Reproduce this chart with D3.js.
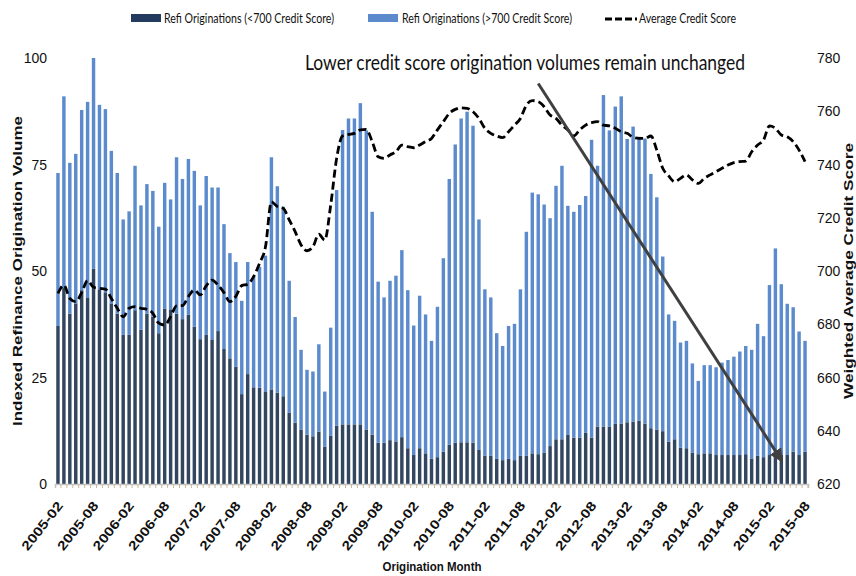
<!DOCTYPE html>
<html lang="en">
<head>
    <meta charset="UTF-8">
    <title>Refi originations by credit score</title>
    <script src="https://d3js.org/d3.v7.min.js"></script>
    <style>
        body { margin: 0; background: #fff; }
        text { fill: #111; }
    </style>
</head>
<body>
<svg id="chart" width="856" height="576"></svg>
<script>

    // Refi originations with credit score below 700 (indexed, bottom of the stack)
    const below700 = [
        37.1, 46, 40, 42.4, 45.5, 43.8, 50.5, 45.7, 45, 42.4, 40, 35, 35, 40.8, 36.2, 40,
        39.3, 35.4, 41.2, 41, 40, 38.7, 39.7, 36.9, 34, 35, 33.8, 35.9, 31.7, 29.5, 27.5, 21.1,
        25.8, 22.7, 22.6, 21.6, 22.2, 21.4, 20.6, 16.7, 14.4, 12.8, 11.6, 11.2, 12.3, 8.8, 11.3, 13.7,
        14, 14, 14, 14, 12.8, 11.6, 9.7, 9.7, 10.3, 10, 11, 8.4, 6.8, 8.4, 7.2, 5.9,
        6.3, 7.6, 9.2, 9.7, 9.8, 9.8, 9.7, 8, 6.6, 6.6, 5.9, 5.6, 5.9, 5.6, 6.6, 6.6,
        7.2, 7, 7.4, 8.9, 10.5, 10.5, 11.5, 10.9, 10.9, 12, 10.9, 13.5, 13.5, 13.5, 14.1, 14.2,
        14.5, 14.6, 14.9, 14.2, 13.1, 12.8, 12.4, 9.9, 10.5, 8.5, 8.4, 7.4, 7, 7.2, 7.2, 6.8,
        6.8, 6.8, 6.8, 6.8, 7, 6, 6.6, 6.3, 6.8, 6.8, 6.8, 6.8, 7.6, 6.8, 7.6
    ];

    // Refi originations with credit score above 700 (stacked on top)
    const above700 = [
        35.9, 45, 35.4, 35.1, 42.3, 45.9, 49.5, 43.3, 43, 35.8, 33, 27.1, 29, 33.9, 29.2, 30.4,
        29.5, 25, 29.5, 25.8, 36.7, 32.9, 36.6, 36.6, 31.4, 37.3, 35.8, 33.7, 29.3, 24.7, 24.6, 21.9,
        26.3, 26, 28.4, 32, 54.5, 48.5, 44.5, 31, 24.8, 18.7, 15.2, 15.2, 20.5, 12.9, 25.4, 55.3,
        69.1, 71.8, 71.8, 75.4, 70.2, 52.3, 37.8, 34.1, 37.4, 38.9, 43.9, 37.1, 30.4, 35.8, 32.6, 27.7,
        35.3, 45.4, 62.4, 70, 76, 77.6, 74.4, 54.1, 39.1, 37.2, 29.5, 26.8, 31.2, 32, 39.1, 52.6,
        61.2, 61, 58.2, 53.5, 59.5, 64.2, 53.8, 53, 54.6, 55.6, 69.9, 61.2, 77.8, 69.5, 74.5, 76.8,
        66.5, 69.3, 66.6, 66.9, 59.7, 54.5, 41, 29.9, 27.8, 24.7, 25.2, 20.9, 17.2, 20.7, 20.7, 20.6,
        21.7, 22.3, 23.1, 24.3, 25.4, 25.5, 31, 28.4, 39.9, 48.5, 40.1, 35.5, 33.9, 29, 26
    ];

    // Weighted average credit score (right axis)
    const creditScore = [
        691.6, 694.7, 689.7, 688.5, 691.9, 696.4, 693.9, 693.5, 693.2, 689.7, 686, 682.8, 686, 686.6, 686, 685.6,
        684.1, 680.4, 679.7, 682.8, 686.9, 687, 690.4, 692.9, 691, 694.4, 696.6, 694.7, 691.9, 688.5, 690.5, 694.5,
        695, 697.9, 702.9, 709.1, 726, 724.2, 723.5, 719.2, 714.8, 709.8, 707.6, 709.1, 713.8, 711.6, 724.8, 742.3,
        750.7, 751.3, 751.7, 753, 753.2, 748.6, 742.9, 742.3, 743.6, 744.8, 747.3, 746.7, 746.3, 747.3, 748.6, 749.8,
        753, 756.1, 759.2, 760.7, 761.3, 761.1, 759.8, 757.3, 753.6, 751.7, 750.7, 750.1, 752.3, 754.8, 757.3, 762.3,
        764, 763.6, 761.7, 758.6, 757.3, 754.8, 753, 750.7, 753, 754.8, 755.7, 756.1, 754.8, 754.5, 753.6, 752.3,
        751.7, 750.2, 749.8, 749.8, 750.7, 745.4, 738.6, 735.7, 733.5, 734.8, 736.1, 734.2, 732.9, 734.8, 736.1, 737.3,
        738.6, 739.8, 740.7, 741.1, 741.3, 744.8, 747.3, 749.2, 754.5, 753.6, 751.1, 750.4, 748.6, 745.4, 741.1
    ];

    const tickLabels = [
        "2005-02", "2005-08", "2006-02", "2006-08", "2007-02", "2007-08", "2008-02", "2008-08",
        "2009-02", "2009-08", "2010-02", "2010-08", "2011-02", "2011-08", "2012-02", "2012-08",
        "2013-02", "2013-08", "2014-02", "2014-08", "2015-02", "2015-08"
    ];
    const leftTicks = [0, 25, 50, 75, 100];
    const rightTicks = [620, 640, 660, 680, 700, 720, 740, 760, 780];

    // arrow annotation, in data terms
    const arrowFrom = {month: "2011-11", value: 94};
    const arrowTo = {month: "2015-04", value: 5.6};

    const fmt = d3.timeFormat("%Y-%m");
    const months = d3.timeMonth.range(new Date(2005, 1, 1), new Date(2015, 8, 1)).map(fmt);

    const rows = months.map((m, i) => ({month: m, low: below700[i], high: above700[i], score: creditScore[i]}));

    const svg = d3.select("#chart");
    const plotLeft = 55, plotRight = 808, plotTop = 58, plotBottom = 484;

    const x = d3.scaleBand()
        .domain(months)
        .range([plotLeft, plotRight])
        .paddingInner(0.42)
        .paddingOuter(0.21);

    const y = d3.scaleLinear().domain([0, 100]).range([plotBottom, plotTop]);
    const yR = d3.scaleLinear().domain([620, 780]).range([plotBottom, plotTop]);

    const colors = {low: "#33465f", high: "#5b8bcd"};

    // stacked bars
    const stacked = d3.stack().keys(["low", "high"])(rows);
    svg.append("g")
        .selectAll("g")
        .data(stacked)
        .join("g")
        .attr("fill", d => colors[d.key])
        .selectAll("rect")
        .data(d => d)
        .join("rect")
        .attr("x", d => x(d.data.month))
        .attr("y", d => y(d[1]))
        .attr("width", x.bandwidth())
        .attr("height", d => y(d[0]) - y(d[1]));

    // x axis
    const xAxis = svg.append("g")
        .attr("transform", `translate(0,${plotBottom})`)
        .call(d3.axisBottom(x).tickSize(4).tickFormat(""));
    xAxis.select(".domain").attr("stroke", "#c3c3c3").attr("stroke-width", 1.5);
    xAxis.selectAll(".tick line")
        .attr("stroke", "#c9b99a")
        .attr("x1", x.step() / 2)
        .attr("x2", x.step() / 2);

    svg.append("g")
        .selectAll("text")
        .data(tickLabels)
        .join("text")
        .attr("transform", d => `translate(${x(d) + x.bandwidth() / 2 + 2},${plotBottom + 19}) rotate(-52)`)
        .attr("dy", "0.35em")
        .attr("text-anchor", "end")
        .attr("font-family", "Liberation Sans, Arial, sans-serif")
        .attr("font-size", 13)
        .attr("font-weight", "bold")
        .attr("textLength", 58)
        .attr("lengthAdjust", "spacingAndGlyphs")
        .text(d => d);

    // left axis labels
    svg.append("g")
        .selectAll("text")
        .data(leftTicks)
        .join("text")
        .attr("x", 47)
        .attr("y", d => y(d))
        .attr("dy", "0.36em")
        .attr("text-anchor", "end")
        .attr("font-family", "Liberation Sans, Arial, sans-serif")
        .attr("font-size", 14)
        .text(d => d);

    // right axis labels
    svg.append("g")
        .selectAll("text")
        .data(rightTicks)
        .join("text")
        .attr("x", 817)
        .attr("y", d => yR(d))
        .attr("dy", "0.36em")
        .attr("font-family", "Liberation Sans, Arial, sans-serif")
        .attr("font-size", 14)
        .text(d => d);

    // credit score line
    const line = d3.line()
        .x(d => x(d.month) + x.bandwidth() / 2)
        .y(d => yR(d.score))
        .curve(d3.curveMonotoneX);

    svg.append("path")
        .datum(rows)
        .attr("fill", "none")
        .attr("stroke", "#000")
        .attr("stroke-width", 2.8)
        .attr("stroke-dasharray", "8,4")
        .attr("d", line);

    // arrow
    svg.append("defs").append("marker")
        .attr("id", "head")
        .attr("viewBox", "0 0 10 10")
        .attr("refX", 8).attr("refY", 5)
        .attr("markerWidth", 4.5).attr("markerHeight", 4.5)
        .attr("orient", "auto")
        .append("path")
        .attr("d", "M0,0L10,5L0,10z")
        .attr("fill", "#404040");

    svg.append("line")
        .attr("x1", x(arrowFrom.month) + x.bandwidth() / 2)
        .attr("y1", y(arrowFrom.value))
        .attr("x2", x(arrowTo.month) + x.bandwidth() / 2)
        .attr("y2", y(arrowTo.value))
        .attr("stroke", "#404040")
        .attr("stroke-width", 3)
        .attr("marker-end", "url(#head)");

    // annotation
    svg.append("text")
        .attr("x", 525)
        .attr("y", 70)
        .attr("text-anchor", "middle")
        .attr("font-family", "Lato, Open Sans, sans-serif")
        .attr("font-size", 21)
        .attr("textLength", 440)
        .attr("lengthAdjust", "spacingAndGlyphs")
        .text("Lower credit score origination volumes remain unchanged");

    // axis titles
    svg.append("text")
        .attr("transform", "translate(22,271) rotate(-90)")
        .attr("text-anchor", "middle")
        .attr("font-family", "Liberation Sans, Arial, sans-serif")
        .attr("font-size", 13)
        .attr("font-weight", "bold")
        .attr("textLength", 310)
        .attr("lengthAdjust", "spacingAndGlyphs")
        .text("Indexed Refinance Origination Volume");

    svg.append("text")
        .attr("transform", "translate(853,271) rotate(-90)")
        .attr("text-anchor", "middle")
        .attr("font-family", "Liberation Sans, Arial, sans-serif")
        .attr("font-size", 13)
        .attr("font-weight", "bold")
        .attr("textLength", 256)
        .attr("lengthAdjust", "spacingAndGlyphs")
        .text("Weighted Average Credit Score");

    svg.append("text")
        .attr("x", 432)
        .attr("y", 571)
        .attr("text-anchor", "middle")
        .attr("font-family", "Liberation Sans, Arial, sans-serif")
        .attr("font-size", 13)
        .attr("font-weight", "bold")
        .attr("textLength", 99)
        .attr("lengthAdjust", "spacingAndGlyphs")
        .text("Origination Month");

    // legend
    const legend = svg.append("g")
        .attr("font-family", "Lato, Open Sans, sans-serif")
        .attr("font-size", 13);

    legend.append("rect").attr("x", 131).attr("y", 14).attr("width", 30).attr("height", 8).attr("fill", "#233b5e");
    legend.append("text").attr("x", 164).attr("y", 23)
        .attr("textLength", 170).attr("lengthAdjust", "spacingAndGlyphs")
        .text("Refi Originations  (<700 Credit  Score)");

    legend.append("rect").attr("x", 368).attr("y", 14).attr("width", 30).attr("height", 8).attr("fill", colors.high);
    legend.append("text").attr("x", 402).attr("y", 23)
        .attr("textLength", 170).attr("lengthAdjust", "spacingAndGlyphs")
        .text("Refi Originations  (>700 Credit  Score)");

    legend.append("line").attr("x1", 605).attr("x2", 637).attr("y1", 19).attr("y2", 19)
        .attr("stroke", "#000").attr("stroke-width", 3).attr("stroke-dasharray", "7,3");
    legend.append("text").attr("x", 639).attr("y", 23)
        .attr("textLength", 97).attr("lengthAdjust", "spacingAndGlyphs")
        .text("Average Credit Score");

</script>
</body>
</html>
